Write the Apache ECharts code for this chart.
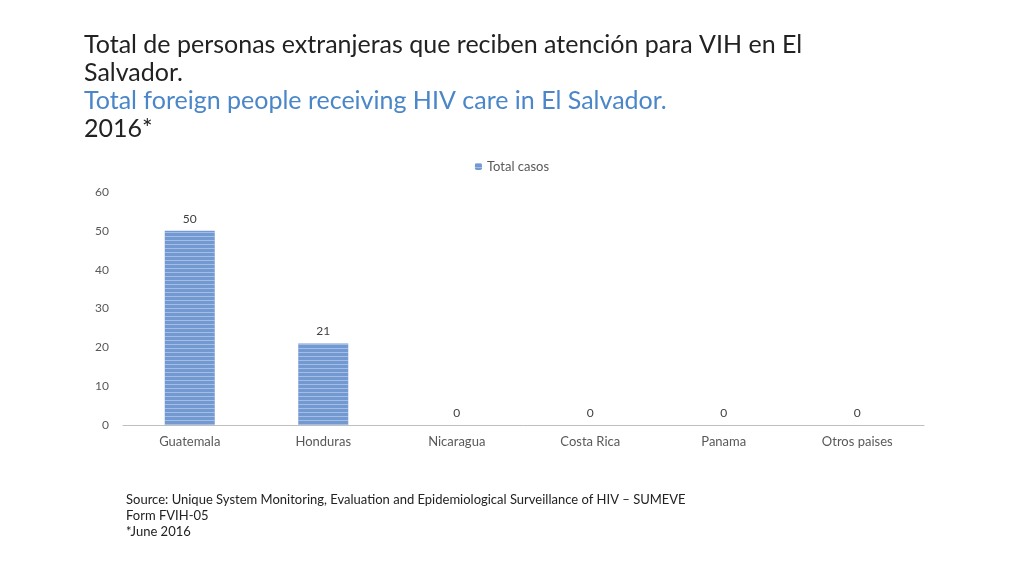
<!DOCTYPE html>
<html>
<head>
<meta charset="utf-8">
<script src="https://cdn.jsdelivr.net/npm/echarts@6/dist/echarts.min.js"></script>
<style>
body { margin: 0; background: #fff; }
#main { width: 1024px; height: 576px; }
</style>
</head>
<body>
<div id="main"></div>
<script>
// datos del grafico
var categories = ['Guatemala', 'Honduras', 'Nicaragua', 'Costa Rica', 'Panama', 'Otros paises'];
var totalCasos = [50, 21, 0, 0, 0, 0];
var yTicks = [0, 10, 20, 30, 40, 50, 60];

var myChart = echarts.init(document.getElementById('main'));
var font = 'Lato, "Open Sans", sans-serif';
var option = {
    backgroundColor: '#fff',
    title: [{
        left: 79, top: 26,
        text: 'Total de personas extranjeras que reciben atención para VIH en El\nSalvador.\n{b|Total foreign people receiving HIV care in El Salvador.}\n2016*',
        textStyle: {
            fontFamily: font, fontSize: 25, fontWeight: 'normal', color: '#222', lineHeight: 28,
            rich: { b: { fontFamily: font, fontSize: 25, color: '#4a86c8', lineHeight: 28 } }
        }
    }, {
        left: 121, top: 487,
        text: 'Source: Unique System Monitoring, Evaluation and Epidemiological Surveillance of HIV – SUMEVE\nForm FVIH-05\n*June 2016',
        textStyle: { fontFamily: font, fontSize: 13, fontWeight: 'normal', color: '#222', lineHeight: 16 }
    }],
    legend: {
        top: 155, left: 'center',
        data: ['Total casos'],
        itemWidth: 7, itemHeight: 7, itemGap: 4,
        textStyle: { fontFamily: font, fontSize: 13, color: '#595959' }
    },
    grid: { left: 123, right: 100, top: 192, bottom: 151 },
    xAxis: [{
        type: 'category',
        data: categories,
        axisLine: { lineStyle: { color: '#bfbfbf' } },
        axisTick: { show: false },
        axisLabel: { fontFamily: font, fontSize: 13, color: '#595959', margin: 10 }
    }],
    yAxis: [{
        type: 'value',
        min: yTicks[0], max: yTicks[yTicks.length - 1], interval: 10,
        splitLine: { show: false },
        axisLine: { show: false },
        axisLabel: { fontFamily: font, fontSize: 12, color: '#595959', margin: 14 }
    }],
    series: [{
        name: 'Total casos',
        type: 'bar',
        data: totalCasos,
        barWidth: 50,
        itemStyle: {
            color: '#7399d2',
            decal: { symbol: 'rect', symbolSize: 1, dashArrayX: [1, 0], dashArrayY: [1, 3], rotation: 0, color: 'rgba(255,255,255,0.35)' }
        },
        label: { show: true, position: 'top', fontFamily: font, fontSize: 12, color: '#404040', distance: 6 }
    }]
};
myChart.setOption(option);
</script>
</body>
</html>
